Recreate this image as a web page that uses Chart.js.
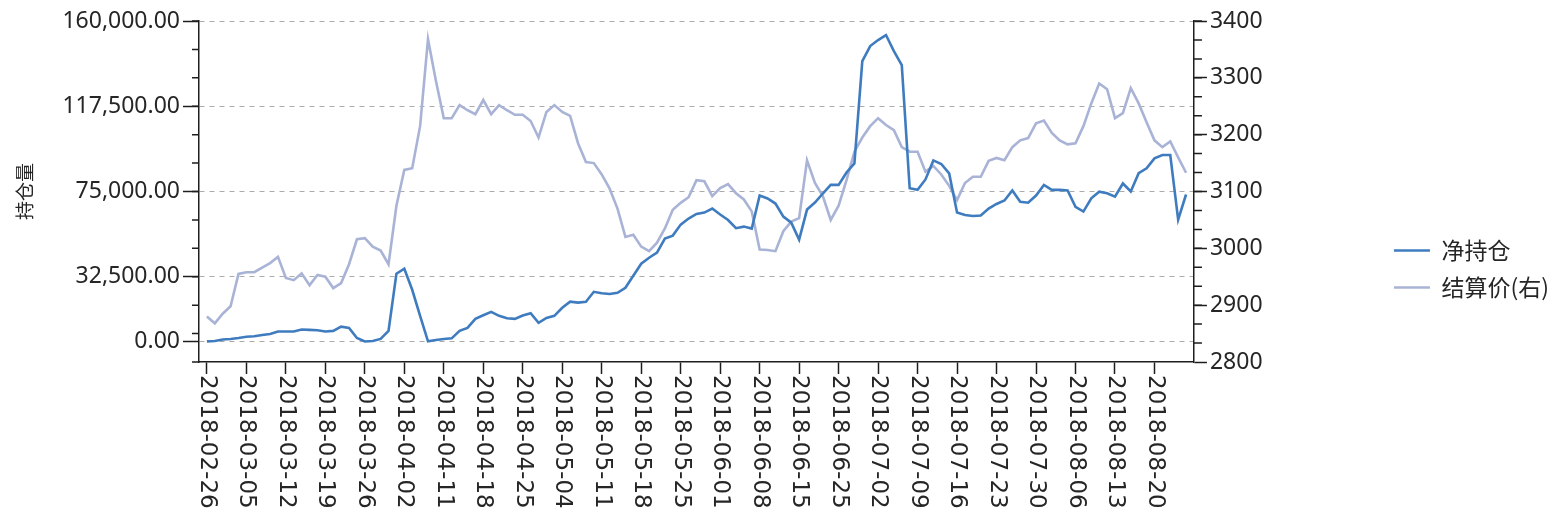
<!DOCTYPE html>
<html>
<head>
<meta charset="utf-8">
<script src="https://cdn.jsdelivr.net/npm/chart.js@4.4.0/dist/chart.umd.min.js"></script>
<style>
  html, body { margin: 0; padding: 0; background: #fff; }
</style>
</head>
<body>
<canvas id="positionChart" width="1547" height="517"></canvas>
<script>
// trading days, 2018-02-26 .. 2018-08-24
const dates = [
  '2018-02-26','2018-02-27','2018-02-28','2018-03-01','2018-03-02',
  '2018-03-05','2018-03-06','2018-03-07','2018-03-08','2018-03-09',
  '2018-03-12','2018-03-13','2018-03-14','2018-03-15','2018-03-16',
  '2018-03-19','2018-03-20','2018-03-21','2018-03-22','2018-03-23',
  '2018-03-26','2018-03-27','2018-03-28','2018-03-29','2018-03-30',
  '2018-04-02','2018-04-03','2018-04-04','2018-04-09','2018-04-10',
  '2018-04-11','2018-04-12','2018-04-13','2018-04-16','2018-04-17',
  '2018-04-18','2018-04-19','2018-04-20','2018-04-23','2018-04-24',
  '2018-04-25','2018-04-26','2018-04-27','2018-05-02','2018-05-03',
  '2018-05-04','2018-05-07','2018-05-08','2018-05-09','2018-05-10',
  '2018-05-11','2018-05-14','2018-05-15','2018-05-16','2018-05-17',
  '2018-05-18','2018-05-21','2018-05-22','2018-05-23','2018-05-24',
  '2018-05-25','2018-05-28','2018-05-29','2018-05-30','2018-05-31',
  '2018-06-01','2018-06-04','2018-06-05','2018-06-06','2018-06-07',
  '2018-06-08','2018-06-11','2018-06-12','2018-06-13','2018-06-14',
  '2018-06-15','2018-06-19','2018-06-20','2018-06-21','2018-06-22',
  '2018-06-25','2018-06-26','2018-06-27','2018-06-28','2018-06-29',
  '2018-07-02','2018-07-03','2018-07-04','2018-07-05','2018-07-06',
  '2018-07-09','2018-07-10','2018-07-11','2018-07-12','2018-07-13',
  '2018-07-16','2018-07-17','2018-07-18','2018-07-19','2018-07-20',
  '2018-07-23','2018-07-24','2018-07-25','2018-07-26','2018-07-27',
  '2018-07-30','2018-07-31','2018-08-01','2018-08-02','2018-08-03',
  '2018-08-06','2018-08-07','2018-08-08','2018-08-09','2018-08-10',
  '2018-08-13','2018-08-14','2018-08-15','2018-08-16','2018-08-17',
  '2018-08-20','2018-08-21','2018-08-22','2018-08-23','2018-08-24'
];

// 净持仓 (left axis)
const netPosition = [
  300, 500, 1200, 1500, 2000,
  2600, 2800, 3500, 4000, 5200,
  5200, 5200, 6200, 6000, 5800,
  5200, 5500, 7600, 7000, 2000,
  200, 500, 1500, 5500, 34000,
  36500, 26000, 13000, 300, 1000,
  1500, 1800, 5500, 7000, 11500,
  13300, 15000, 13000, 11800, 11500,
  13200, 14300, 9500, 12000, 13000,
  17000, 20100, 19600, 20000, 25000,
  24300, 23900, 24500, 27000, 33000,
  39000, 42000, 44500, 51500, 53000,
  58500, 61500, 63800, 64500, 66500,
  63500, 60800, 56700, 57500, 56500,
  73000, 71500, 69000, 62500, 59500,
  51000, 66000, 69500, 74000, 78300,
  78300, 84500, 89000, 140000, 147500,
  150500, 153000, 145000, 138000, 76600,
  75800, 81000, 90500, 88700, 84000,
  64500, 63300, 62800, 63000, 66500,
  68800, 70500, 75500, 69900, 69400,
  73000, 78300, 75800, 75800, 75500,
  67400, 65000, 71600, 74900, 74100,
  72400, 79000, 75000, 84100, 86600,
  91500, 93200, 93200, 61000, 73500
];

// 结算价 (right axis)
const settlePrice = [
  2880, 2868, 2885, 2898, 2955,
  2958, 2958, 2966, 2974, 2985,
  2948, 2944, 2956, 2935, 2953,
  2950, 2930, 2939, 2972, 3016,
  3018, 3003, 2996, 2972, 3075,
  3138, 3141, 3215, 3368, 3295,
  3229, 3229, 3252, 3243, 3236,
  3261, 3236, 3252, 3243, 3235,
  3235, 3224, 3195, 3240, 3252,
  3240, 3233, 3185, 3152, 3150,
  3130, 3105, 3070, 3020, 3024,
  3003, 2995, 3010, 3035, 3068,
  3080, 3090, 3120, 3118, 3092,
  3106, 3113, 3097, 3086, 3065,
  2998, 2997, 2995, 3030, 3047,
  3053, 3155, 3115, 3092, 3050,
  3075, 3120, 3170, 3195, 3215,
  3229, 3217, 3208, 3178, 3170,
  3170, 3135, 3145, 3130, 3110,
  3085, 3115, 3126, 3126, 3154,
  3159, 3155, 3178, 3190, 3194,
  3220, 3225, 3203, 3190, 3183,
  3185, 3215, 3255, 3290, 3280,
  3229, 3238, 3282, 3255, 3222,
  3190, 3178, 3188, 3160, 3133
];

const leftTicks = [0, 32500, 75000, 117500, 160000];
const rightTicks = [2800, 2900, 3000, 3100, 3200, 3300, 3400];
const labelEvery = 5;

var textColor = '#262626';
var axisColor = '#1e1e1e';
var netColor = '#3f7cbf';
var priceColor = '#a9b3d6';

Chart.defaults.font.family = '"Noto Sans", "Noto Sans CJK SC", sans-serif';
Chart.defaults.color = textColor;

// short minor tick marks on both value axes (three per major step)
const minorTicks = {
    id: 'minorTicks',
    afterDraw(chart) {
        const ctx = chart.ctx;
        ctx.save();
        ctx.strokeStyle = axisColor;
        ctx.lineWidth = 1.5;
        ctx.beginPath();
        const l = chart.scales.yLeft;
        const lStep = (leftTicks[4] - leftTicks[3]) / 3;
        for (let v = l.max; v > l.min; v -= lStep) {
            const y = l.getPixelForValue(v);
            ctx.moveTo(l.right - 7, y);
            ctx.lineTo(l.right, y);
        }
        const r = chart.scales.yRight;
        const rStep = (rightTicks[1] - rightTicks[0]) / 3;
        for (let v = r.max; v > r.min; v -= rStep) {
            const y = r.getPixelForValue(v);
            ctx.moveTo(r.left, y);
            ctx.lineTo(r.left + 8, y);
        }
        ctx.stroke();
        ctx.restore();
    }
};

// date labels turned to read top-down
const dateLabels = {
    id: 'dateLabels',
    afterDraw(chart) {
        const scale = chart.scales.x;
        const ctx = chart.ctx;
        ctx.save();
        ctx.font = '23px "DejaVu Sans"';
        ctx.fillStyle = textColor;
        ctx.textAlign = 'left';
        ctx.textBaseline = 'middle';
        scale.ticks.forEach(function (t) {
            ctx.save();
            ctx.translate(scale.getPixelForValue(t.value), scale.top + 13);
            ctx.rotate(Math.PI / 2);
            ctx.fillText(dates[t.value], 0, 0);
            ctx.restore();
        });
        ctx.restore();
    }
};

var positionChart = new Chart(document.getElementById('positionChart'), {
    type: 'line',
    data: {
        datasets: [
            {
                label: '净持仓',
                data: netPosition.map((v, i) => ({ x: i, y: v })),
                yAxisID: 'yLeft',
                borderColor: netColor,
                backgroundColor: netColor,
                borderWidth: 2.6,
                pointRadius: 0,
                tension: 0
            },
            {
                label: '结算价(右)',
                data: settlePrice.map((v, i) => ({ x: i, y: v })),
                yAxisID: 'yRight',
                borderColor: priceColor,
                backgroundColor: priceColor,
                borderWidth: 2.6,
                pointRadius: 0,
                tension: 0
            }
        ]
    },
    options: {
        responsive: false,
        animation: false,
        devicePixelRatio: 1,
        layout: { padding: { top: 21, right: -12, bottom: 0, left: 0 } },
        plugins: {
            tooltip: { enabled: false },
            legend: {
                position: 'right',
                labels: {
                    usePointStyle: true,
                    pointStyle: 'line',
                    pointStyleWidth: 36,
                    padding: 14,
                    color: textColor,
                    font: { size: 23, family: '"Noto Sans CJK SC", sans-serif' }
                }
            }
        },
        scales: {
            x: {
                type: 'linear',
                min: -1,
                max: dates.length,
                afterBuildTicks: function (scale) {
                    scale.ticks = dates
                        .map((d, i) => i)
                        .filter(i => i % labelEvery === 0)
                        .map(i => ({ value: i }));
                },
                afterFit: function (scale) { scale.height = 155; },
                ticks: { display: false },
                grid: {
                    drawOnChartArea: false,
                    tickLength: 12,
                    tickColor: axisColor,
                    tickWidth: 1.5
                },
                border: { color: axisColor, width: 1.5 }
            },
            yLeft: {
                type: 'linear',
                position: 'left',
                min: -10000,
                max: 160000,
                afterBuildTicks: function (scale) {
                    scale.ticks = leftTicks.map(v => ({ value: v }));
                },
                afterFit: function (scale) { scale.width = 199; },
                ticks: {
                    padding: 3,
                    font: { size: 23 },
                    callback: v => v.toLocaleString('en-US', { minimumFractionDigits: 2, maximumFractionDigits: 2 })
                },
                grid: {
                    color: '#ababab',
                    lineWidth: 1,
                    tickLength: 16,
                    tickColor: axisColor,
                    tickWidth: 1.5
                },
                border: { color: axisColor, width: 1.5, dash: [5, 5] },
                title: {
                    display: true,
                    text: '持仓量',
                    color: textColor,
                    padding: { top: 13, bottom: 0 },
                    font: { size: 19, family: '"Noto Sans CJK SC", sans-serif' }
                }
            },
            yRight: {
                type: 'linear',
                position: 'right',
                min: 2800,
                max: 3400,
                afterBuildTicks: function (scale) {
                    scale.ticks = rightTicks.map(v => ({ value: v }));
                },
                afterFit: function (scale) { scale.width = 186; },
                ticks: {
                    padding: 3,
                    font: { size: 23 },
                    callback: v => String(v)
                },
                grid: {
                    drawOnChartArea: false,
                    tickLength: 13,
                    tickColor: axisColor,
                    tickWidth: 1.5
                },
                border: { color: axisColor, width: 1.5 }
            }
        }
    },
    plugins: [minorTicks, dateLabels]
});
</script>
</body>
</html>
